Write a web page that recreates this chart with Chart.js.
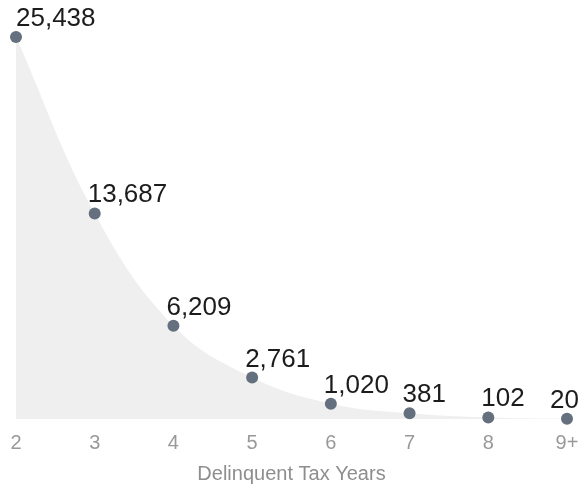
<!DOCTYPE html>
<html>
<head>
<meta charset="utf-8">
<script src="https://cdn.jsdelivr.net/npm/chart.js@4/dist/chart.umd.min.js"></script>
<style>
  html, body { margin: 0; padding: 0; background: #fff; }
  #wrap { width: 580px; height: 488px; }
</style>
</head>
<body>
<div id="wrap"><canvas id="delinquentChart"></canvas></div>
<script>
// Parcels by number of delinquent tax years
const taxYears = ['2', '3', '4', '5', '6', '7', '8', '9+'];
const parcelCounts = [25438, 13687, 6209, 2761, 1020, 381, 102, 20];

// Writes the count above each point, nudged left and kept inside the canvas
const valueLabels = {
    id: 'valueLabels',
    afterDatasetsDraw(chart) {
        const ctx = chart.ctx;
        const meta = chart.getDatasetMeta(0);
        ctx.save();
        ctx.font = '26px "Liberation Sans", Arial, sans-serif';
        ctx.fillStyle = '#1c1c1c';
        ctx.textAlign = 'left';
        ctx.textBaseline = 'alphabetic';
        meta.data.forEach((pt, i) => {
            const text = parcelCounts[i].toLocaleString('en-US');
            const w = ctx.measureText(text).width;
            let x = pt.x - 7;
            x = Math.max(16, Math.min(x, chart.width - w - 1));
            ctx.fillText(text, x, pt.y - 11);
        });
        ctx.restore();
    }
};

const ctx = document.getElementById('delinquentChart').getContext('2d');
new Chart(ctx, {
    type: 'line',
    data: {
        labels: taxYears,
        datasets: [{
            data: parcelCounts,
            fill: 'origin',
            backgroundColor: '#efefef',
            borderWidth: 0,
            borderColor: 'rgba(0,0,0,0)',
            tension: 0.4,
            clip: false,
            pointRadius: 6,
            pointBackgroundColor: '#65707e',
            pointBorderWidth: 0
        }]
    },
    options: {
        responsive: true,
        maintainAspectRatio: false,
        animation: false,
        layout: {
            padding: { top: 37, left: 16, right: 13, bottom: 7 }
        },
        scales: {
            x: {
                offset: false,
                grid: { display: false, drawTicks: false },
                border: { display: false },
                // side margins come from layout.padding only
                afterFit(scale) {
                    scale.paddingLeft = 0;
                    scale.paddingRight = 0;
                },
                ticks: {
                    padding: 12,
                    color: '#999999',
                    font: { family: '"Liberation Sans", Arial, sans-serif', size: 20 }
                },
                title: {
                    display: true,
                    text: 'Delinquent Tax Years',
                    color: '#8e8e8e',
                    padding: { top: 0, bottom: 0 },
                    font: { family: '"Liberation Sans", Arial, sans-serif', size: 20, lineHeight: 0.7 }
                }
            },
            y: {
                display: false,
                min: 0,
                max: 25438
            }
        },
        plugins: {
            legend: { display: false },
            tooltip: { enabled: false }
        }
    },
    plugins: [valueLabels]
});
</script>
</body>
</html>
